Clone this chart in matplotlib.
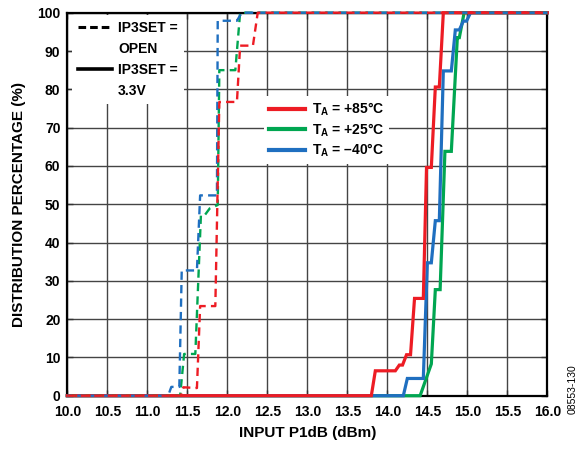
import matplotlib
matplotlib.use("Agg")
import matplotlib.pyplot as plt
from matplotlib.lines import Line2D

plt.rcParams['font.family'] = ['Liberation Sans', 'DejaVu Sans']
plt.rcParams['font.weight'] = 'bold'
plt.rcParams['mathtext.fontset'] = 'custom'
plt.rcParams['mathtext.rm'] = 'Liberation Sans:bold'
plt.rcParams['mathtext.bf'] = 'Liberation Sans:bold'

# ---- data: IP3SET = 3.3V (solid) ----
x_85_33 = [10.0, 13.80, 13.85, 14.10, 14.15, 14.19, 14.24, 14.29, 14.34, 14.45, 14.49, 14.55, 14.60, 14.65, 14.70, 16.0]
y_85_33 = [0, 0, 6.5, 6.5, 8.0, 8.0, 10.7, 10.7, 25.4, 25.4, 59.6, 59.6, 80.6, 80.6, 100, 100]
x_25_33 = [10.0, 14.41, 14.55, 14.60, 14.66, 14.72, 14.80, 14.875, 14.90, 14.96, 16.0]
y_25_33 = [0, 0, 8.3, 27.7, 27.7, 63.8, 63.8, 93.5, 93.5, 100, 100]
x_m40_33 = [10.0, 14.20, 14.25, 14.45, 14.50, 14.55, 14.60, 14.65, 14.70, 14.80, 14.85, 14.90, 14.95, 14.99, 15.04, 16.0]
y_m40_33 = [0, 0, 4.5, 4.5, 34.7, 34.7, 45.7, 45.7, 84.8, 84.8, 95.5, 95.5, 97.8, 97.8, 100, 100]

# ---- data: IP3SET = OPEN (dashed) ----
x_85_op = [10.0, 11.42, 11.45, 11.62, 11.66, 11.85, 11.90, 12.12, 12.16, 12.32, 12.38, 16.0]
y_85_op = [0, 0, 2.2, 2.0, 23.4, 23.4, 76.7, 76.7, 91.4, 91.4, 100, 100]
x_25_op = [10.0, 11.41, 11.46, 11.60, 11.67, 11.72, 11.78, 11.88, 11.90, 12.10, 12.16, 16.0]
y_25_op = [0, 0, 10.9, 10.9, 47.2, 47.2, 48.9, 49.8, 85.0, 85.0, 100, 100]
x_m40_op = [10.0, 11.26, 11.30, 11.40, 11.43, 11.62, 11.66, 11.87, 11.88, 12.12, 12.18, 16.0]
y_m40_op = [0, 0, 2.3, 2.3, 32.7, 32.7, 52.3, 52.3, 97.9, 97.9, 100, 100]

x_ticks = [10.0, 10.5, 11.0, 11.5, 12.0, 12.5, 13.0, 13.5, 14.0, 14.5, 15.0, 15.5, 16.0]
y_ticks = [0, 10, 20, 30, 40, 50, 60, 70, 80, 90, 100]

RED = '#ED1C24'
GREEN = '#00A651'
BLUE = '#1F6FC0'

fig = plt.figure(figsize=(5.86, 4.49), dpi=100)
ax = fig.add_axes([0.1149, 0.1187, 0.934 - 0.1149, 0.9717 - 0.1187])

lw_s = 2.3
lw_d = 1.7
common = dict(clip_on=False)
ax.plot(x_25_33, y_25_33, color=GREEN, lw=lw_s, zorder=3, solid_joinstyle='miter', **common)
ax.plot(x_m40_33, y_m40_33, color=BLUE, lw=lw_s, zorder=3.1, solid_joinstyle='miter', **common)
ax.plot(x_85_33, y_85_33, color=RED, lw=lw_s, zorder=3.2, solid_joinstyle='miter', **common)
ax.plot(x_25_op, y_25_op, color=GREEN, lw=lw_d, ls=(0, (3.5, 2.2)), zorder=4, **common)
ax.plot(x_m40_op, y_m40_op, color=BLUE, lw=lw_d, ls=(1.5, (3.5, 2.2)), zorder=4.1, **common)
ax.plot(x_85_op, y_85_op, color=RED, lw=lw_d, ls=(0, (3.5, 2.2)), zorder=4.2, **common)

ax.set_xlim(10.0, 16.0)
ax.set_ylim(0, 100)
ax.set_xticks(x_ticks)
ax.set_xticklabels([f"{v:.1f}" for v in x_ticks])
ax.set_yticks(y_ticks)
ax.set_yticklabels([str(v) for v in y_ticks])
ax.grid(True, color='#444444', lw=1.0, zorder=1)
ax.set_axisbelow(True)
ax.tick_params(axis='both', labelsize=10, direction='in', length=4, width=1.0,
               color='#333333', top=True, right=True)
ax.tick_params(axis='x', pad=7)
ax.tick_params(axis='y', pad=5)
for lab in ax.get_xticklabels() + ax.get_yticklabels():
    lab.set_fontweight('bold')
for sp in ax.spines.values():
    sp.set_linewidth(1.6)
    sp.set_color('black')
    sp.set_zorder(2.5)

ax.set_xlabel("INPUT P1dB (dBm)", fontsize=11, fontweight='bold', labelpad=5)
ax.set_ylabel("DISTRIBUTION PERCENTAGE (%)", fontsize=11, fontweight='bold', labelpad=8)

# legend 1: IP3SET
blank = Line2D([], [], color='none')
h1 = [Line2D([], [], color='black', lw=2.2, ls=(0, (2.5, 1.3))), blank,
      Line2D([], [], color='black', lw=2.6), blank]
l1 = ["IP3SET =", "OPEN", "IP3SET =", "3.3V"]
leg1 = ax.legend(h1, l1, loc='upper left', bbox_to_anchor=(0.01, 0.995),
                 frameon=True, fancybox=False, framealpha=1,
                 edgecolor='none', facecolor='white', handlelength=2.4,
                 handletextpad=0.45, labelspacing=0.5, borderpad=0.45,
                 borderaxespad=0.0, prop={'weight': 'bold', 'size': 10})
leg1.set_zorder(6)
ax.add_artist(leg1)

h2 = [Line2D([], [], color=RED, lw=3), Line2D([], [], color=GREEN, lw=3),
      Line2D([], [], color=BLUE, lw=3)]
l2 = [r"T$_{\rm A}$ = +85°C", r"T$_{\rm A}$ = +25°C", r"T$_{\rm A}$ = –40°C"]
leg2 = ax.legend(h2, l2, loc='upper left', bbox_to_anchor=(0.409, 0.782),
                 frameon=True, fancybox=False, framealpha=1,
                 edgecolor='none', facecolor='white', handlelength=2.6,
                 handletextpad=0.5, labelspacing=0.2, borderpad=0.35,
                 borderaxespad=0.0, prop={'weight': 'bold', 'size': 10})
leg2.set_zorder(6)

fig.text(0.977, 0.134, "08553-130", rotation=90, fontsize=7.5, fontweight='normal',
         ha='center', va='center')

fig.savefig("out.png", dpi=100)
